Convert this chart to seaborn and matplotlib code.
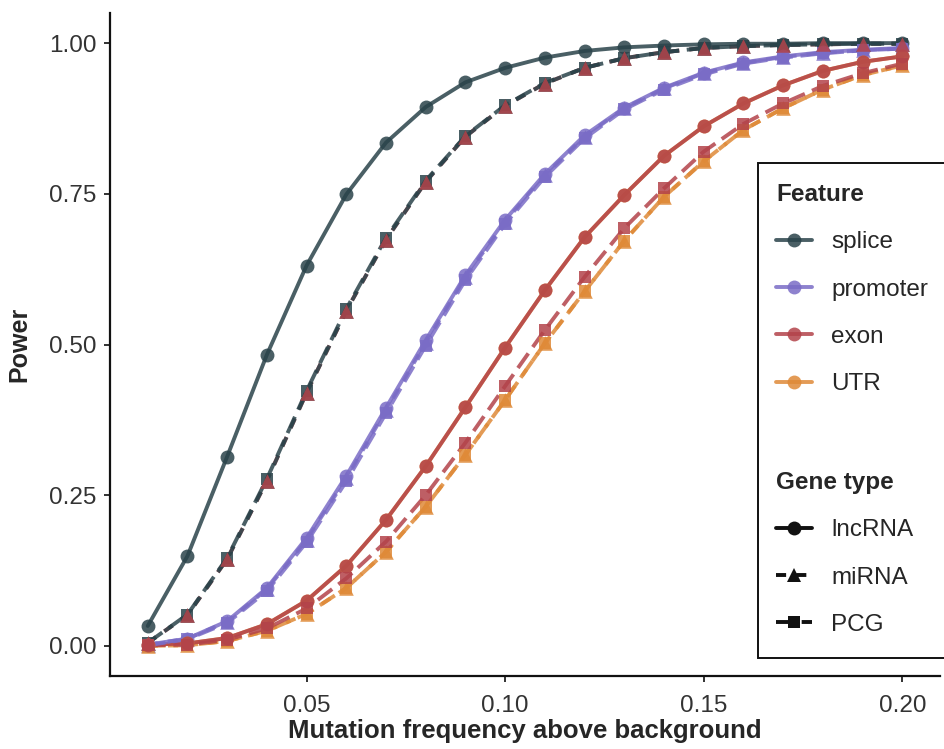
import matplotlib
matplotlib.use("Agg")
import matplotlib.pyplot as plt
from matplotlib.lines import Line2D
from matplotlib.patches import Rectangle
import pandas as pd
import seaborn as sns

# Mutation frequency above background (x axis)
freq = [0.01, 0.02, 0.03, 0.04, 0.05, 0.06, 0.07, 0.08, 0.09, 0.10,
        0.11, 0.12, 0.13, 0.14, 0.15, 0.16, 0.17, 0.18, 0.19, 0.20]

# Power per feature and gene type
splice_lncRNA = [0.033, 0.149, 0.314, 0.483, 0.631, 0.749, 0.835, 0.894, 0.935, 0.959,
                 0.976, 0.987, 0.993, 0.996, 0.998, 0.999, 0.999, 1.000, 1.000, 1.000]
splice_miRNA = [0.005, 0.051, 0.144, 0.274, 0.420, 0.556, 0.674, 0.770, 0.845, 0.896,
                0.933, 0.959, 0.975, 0.985, 0.992, 0.995, 0.997, 0.998, 0.999, 0.999]
splice_PCG = [0.005, 0.052, 0.146, 0.277, 0.423, 0.559, 0.677, 0.772, 0.846, 0.897,
              0.934, 0.959, 0.975, 0.985, 0.992, 0.995, 0.997, 0.998, 0.999, 0.999]
promoter_lncRNA = [0.002, 0.012, 0.041, 0.096, 0.179, 0.282, 0.395, 0.507, 0.615, 0.707,
                   0.783, 0.847, 0.893, 0.926, 0.951, 0.968, 0.978, 0.985, 0.989, 0.992]
promoter_miRNA = [0.002, 0.012, 0.040, 0.094, 0.176, 0.278, 0.391, 0.503, 0.612, 0.704,
                  0.781, 0.845, 0.892, 0.925, 0.950, 0.967, 0.977, 0.984, 0.988, 0.991]
promoter_PCG = [0.001, 0.011, 0.038, 0.091, 0.172, 0.273, 0.386, 0.498, 0.607, 0.700,
                0.778, 0.842, 0.890, 0.923, 0.948, 0.966, 0.976, 0.983, 0.988, 0.991]
exon_lncRNA = [0.002, 0.004, 0.013, 0.036, 0.075, 0.133, 0.209, 0.298, 0.396, 0.495,
               0.590, 0.678, 0.748, 0.813, 0.862, 0.900, 0.930, 0.954, 0.969, 0.978]
exon_miRNA = [0.005, 0.051, 0.144, 0.274, 0.420, 0.556, 0.674, 0.770, 0.845, 0.896,
              0.933, 0.959, 0.975, 0.985, 0.992, 0.995, 0.997, 0.998, 0.999, 0.999]
exon_PCG = [0.001, 0.002, 0.010, 0.029, 0.062, 0.112, 0.173, 0.250, 0.337, 0.431,
            0.524, 0.612, 0.693, 0.759, 0.820, 0.866, 0.900, 0.929, 0.950, 0.966]
UTR_lncRNA = [0.002, 0.004, 0.013, 0.036, 0.075, 0.133, 0.209, 0.298, 0.396, 0.495,
              0.590, 0.678, 0.748, 0.813, 0.862, 0.900, 0.930, 0.954, 0.969, 0.978]
UTR_miRNA = [0.000, 0.001, 0.008, 0.025, 0.053, 0.096, 0.156, 0.231, 0.317, 0.408,
             0.502, 0.588, 0.672, 0.745, 0.804, 0.856, 0.892, 0.923, 0.947, 0.963]
UTR_PCG = [0.000, 0.001, 0.008, 0.025, 0.053, 0.096, 0.156, 0.231, 0.317, 0.408,
           0.502, 0.588, 0.672, 0.745, 0.804, 0.856, 0.892, 0.923, 0.947, 0.963]

features = ["splice", "promoter", "exon", "UTR"]
gene_types = ["lncRNA", "miRNA", "PCG"]
x_ticks = [0.05, 0.10, 0.15, 0.20]
y_ticks = [0.00, 0.25, 0.50, 0.75, 1.00]

series = {
    ("splice", "lncRNA"): splice_lncRNA, ("splice", "miRNA"): splice_miRNA,
    ("splice", "PCG"): splice_PCG,
    ("promoter", "lncRNA"): promoter_lncRNA, ("promoter", "miRNA"): promoter_miRNA,
    ("promoter", "PCG"): promoter_PCG,
    ("exon", "lncRNA"): exon_lncRNA, ("exon", "miRNA"): exon_miRNA,
    ("exon", "PCG"): exon_PCG,
    ("UTR", "lncRNA"): UTR_lncRNA, ("UTR", "miRNA"): UTR_miRNA,
    ("UTR", "PCG"): UTR_PCG,
}

rows = []
for (feat, gt), vals in series.items():
    for f, p in zip(freq, vals):
        rows.append({"freq": f, "power": p, "Feature": feat, "Gene type": gt})
df = pd.DataFrame(rows)

palette = {"splice": "#2a434a", "promoter": "#7a6cc6", "exon": "#b3434a", "UTR": "#df8a38"}
dash_map = {"lncRNA": "", "miRNA": (2.6, 2.6), "PCG": (4.6, 2.0)}
marker_map = {"lncRNA": "o", "miRNA": "^", "PCG": "s"}
marker_size = {"lncRNA": 100, "miRNA": 110, "PCG": 85}

sns.set_style("ticks")
plt.rcParams["font.family"] = ["Liberation Sans", "DejaVu Sans"]

W, H = 944, 749
fig = plt.figure(figsize=(W / 100, H / 100), dpi=100)
ax = fig.add_axes([110 / W, 1 - 676 / H, 830 / W, 663 / H])

LW = 2.8
ALPHA = 0.85

# lines first (all groups), then points on top, like a layered grammar plot
for feat in ["UTR", "exon", "promoter", "splice"]:
    sub = df[df["Feature"] == feat]
    sns.lineplot(data=sub, x="freq", y="power", style="Gene type",
                 style_order=["lncRNA", "PCG", "miRNA"], dashes=dash_map,
                 color=palette[feat], lw=LW, alpha=ALPHA, legend=False,
                 estimator=None, ax=ax)

for feat in ["splice", "promoter", "UTR", "exon"]:
    for gt in ["lncRNA", "PCG", "miRNA"]:
        sub = df[(df["Feature"] == feat) & (df["Gene type"] == gt)]
        sns.scatterplot(data=sub, x="freq", y="power", color=palette[feat],
                        marker=marker_map[gt], s=marker_size[gt], linewidth=0,
                        alpha=ALPHA, legend=False, ax=ax, zorder=3)

ax.set_xlim(0.0005, 0.2095)
ax.set_ylim(-0.05, 1.05)
ax.set_xticks(x_ticks)
ax.set_xticklabels([f"{t:.2f}" for t in x_ticks])
ax.set_yticks(y_ticks)
ax.set_yticklabels([f"{t:.2f}" for t in y_ticks])
ax.tick_params(axis="both", labelsize=17.5, labelcolor="#333333", color="#222222",
               length=4.5, width=1.3)
ax.tick_params(axis="x", pad=9.5)
ax.tick_params(axis="y", pad=5)
for side in ["top", "right"]:
    ax.spines[side].set_visible(False)
for side in ["left", "bottom"]:
    ax.spines[side].set_linewidth(1.6)
    ax.spines[side].set_color("#111111")
ax.set_xlabel("Mutation frequency above background", fontsize=18.5,
              fontweight="bold", labelpad=1)
ax.set_ylabel("Power", fontsize=18, fontweight="bold", labelpad=13)

# legend frame
fig.patches.append(Rectangle((758 / W, 1 - 658 / H), 300 / W, 495 / H,
                             transform=fig.transFigure, facecolor="white",
                             edgecolor="#111111", lw=1.4, zorder=4))

feat_handles = [Line2D([], [], color=palette[f], lw=LW, marker="o", markersize=10,
                       markeredgewidth=0, alpha=ALPHA) for f in features]
gt_handles = []
for g in gene_types:
    h = Line2D([], [], color="#111111", lw=LW, marker=marker_map[g],
               markersize=10 if g != "PCG" else 9, markeredgewidth=0)
    if dash_map[g]:
        h.set_dashes(dash_map[g])
    gt_handles.append(h)

common = dict(frameon=False, fontsize=17.5, handlelength=1.5, handletextpad=0.78,
              labelspacing=1.04, borderpad=0, borderaxespad=0, alignment="left",
              title_fontproperties={"weight": "bold", "size": 17.5})
leg1 = fig.legend(feat_handles, features, title="Feature", loc="upper left",
                  bbox_to_anchor=(776 / W, 1 - 183 / H), **common)
leg2 = fig.legend(gt_handles, gene_types, title="Gene type", loc="upper left",
                  bbox_to_anchor=(776 / W, 1 - 471 / H), **common)
for leg in (leg1, leg2):
    leg.set_zorder(6)

fig.savefig("out.png", dpi=100)
